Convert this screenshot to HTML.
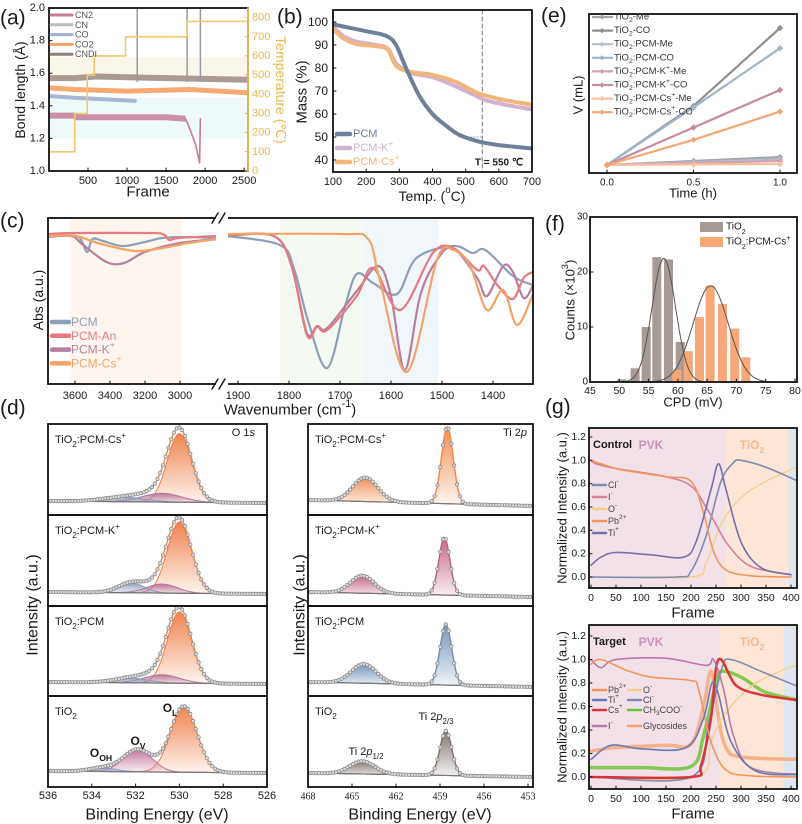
<!DOCTYPE html>
<html><head><meta charset="utf-8">
<style>
html,body{margin:0;padding:0;background:#fff}
svg{display:block;font-family:"Liberation Sans",Arial,sans-serif}
</style></head>
<body>
<svg id="fig" width="802" height="824" viewBox="0 0 802 824"></svg>
<script>
// ---------------- DATA ----------------
// (a) bond length MD
const aCN2=[[0,1.34],[330,1.34],[345,1.33],[1000,1.33],[1500,1.33],[1750,1.32]];
const aCN2Drop=[[1750,1.32],[1810,1.25],[1880,1.16],[1930,1.05],[1940,1.32]];
const aCO=[[0,1.46],[330,1.45],[700,1.44],[1100,1.43]];
const aCO2=[[0,1.51],[330,1.5],[1000,1.49],[1800,1.5],[2550,1.48]];
const aCNDI=[[0,1.57],[330,1.57],[600,1.58],[1500,1.57],[2550,1.56]];
const aSpikes=[1130,1770,1940];
const aTemp=[[0,100],[330,100],[330,300],[490,300],[490,500],[580,500],[580,600],[980,600],[980,700],[1770,700],[1770,780],[2550,780]];
const aYTicks=[1.0,1.2,1.4,1.6,1.8,2.0];
const aTTicks=[0,100,200,300,400,500,600,700,800];
const aXTicks=[500,1000,1500,2000,2500];
// (b) TGA
const bPCM=[[100,99],[150,97.5],[200,96],[260,94],[290,90],[320,80],[360,68],[400,60],[440,55],[480,51],[540,48],[600,46.5],[700,45]];
const bK=[[100,98],[130,94],[170,91.5],[230,90],[265,88.5],[290,82],[330,78],[400,76],[470,72],[530,68],[560,66],[620,64],[700,62]];
const bCs=[[100,97],[130,93],[170,90.5],[230,89.5],[265,88],[290,81],[330,78.5],[400,77],[470,74],[530,69.5],[560,68],[620,66],[700,64]];
const bXTicks=[100,200,300,400,500,600,700];
const bYTicks=[40,50,60,70,80,90,100];
// (e) gas volume
const eTimes=[0,0.5,1.0];
const eNames=['TiO2-Me','TiO2-CO','TiO2:PCM-Me','TiO2:PCM-CO','TiO2:PCM-K+-Me','TiO2:PCM-K+-CO','TiO2:PCM-Cs+-Me','TiO2:PCM-Cs+-CO'];
const eVals=[[0,0.28,0.55],[0,4.1,9.5],[0,0.2,0.4],[0,4.0,8.1],[0,0.14,0.28],[0,2.6,5.2],[0,0.04,0.07],[0,1.75,3.7]];
const eXTicks=[0.0,0.5,1.0];
// (c) FTIR  [wavenumber, absorbance (a.u., downward)]
const cPCM_L=[[3754,0],[3600,0],[3565,0.04],[3530,0.16],[3500,0.03],[3440,0.05],[3330,0.1],[3200,0.06],[3100,0.02],[2950,0.01],[2790,0.02]];
const cAn_L=[[3754,-0.02],[3600,-0.03],[3200,-0.03],[3100,-0.02],[3060,0.04],[3010,0.02],[2790,0]];
const cK_L=[[3754,0.01],[3620,0],[3560,0.08],[3420,0.26],[3320,0.27],[3200,0.16],[3000,0.07],[2790,0.03]];
const cCs_L=[[3754,0],[3600,0],[3450,0.08],[3260,0.15],[3100,0.12],[2950,0.07],[2790,0.03]];
const cPCM_R=[[1922,0],[1818,0.09],[1790,0.33],[1762,0.86],[1725,1.32],[1690,0.7],[1667,0.38],[1635,0.47],[1588,0.58],[1550,0.22],[1478,0.1],[1440,0.17],[1415,0.14],[1361,0.4],[1322,0.49]];
const cAn_R=[[1922,-0.01],[1830,0],[1795,0.3],[1765,0.99],[1745,0.91],[1725,0.94],[1667,0.6],[1635,0.32],[1582,0.74],[1518,0.17],[1478,0.12],[1431,0.34],[1418,0.3],[1390,0.5],[1361,0.63],[1340,0.42],[1322,0.36]];
const cK_R=[[1922,0],[1830,0],[1795,0.3],[1765,0.97],[1745,0.9],[1725,0.92],[1667,0.55],[1625,0.3],[1600,0.6],[1573,1.34],[1543,0.6],[1510,0.24],[1478,0.12],[1431,0.42],[1412,0.6],[1380,0.3],[1361,0.36],[1340,0.62],[1322,0.5]];
const cCs_R=[[1922,-0.02],[1700,-0.02],[1645,0.03],[1622,0.44],[1569,1.36],[1510,0.24],[1478,0.14],[1445,0.3],[1412,0.74],[1380,0.54],[1353,0.89],[1322,0.59]];
const cXTicksL=[3600,3400,3200,3000];
const cXTicksR=[1900,1800,1700,1600,1500,1400];
// (f) CPD histogram
const fBinsT=[50.4,52.7,54.6,56.4,58.4,60.4];
const fCountsT=[0.5,2.5,10,22.7,22.3,7.3];
const fBinsC=[59.8,61.8,63.7,65.5,67.6,69.7,71.6];
const fCountsC=[2.2,5.6,11.8,17.5,14.2,9.7,4.5];
const fFitT=[57.6,22.5,2.0];
const fFitC=[65.6,17.5,3.0];
const fXTicks=[45,50,55,60,65,70,75,80];
const fYTicks=[0,10,20,30];
// (d) XPS peaks [center eV, intensity, sigma]
const dO_Cs=[[530.0,0.94,0.55],[530.8,0.12,0.9],[532.5,0.06,1.0]];
const dO_K=[[530.0,0.95,0.55],[530.8,0.12,0.7],[532.2,0.13,0.6]];
const dO_PCM=[[530.0,0.95,0.55],[530.8,0.11,0.8],[532.2,0.06,0.8]];
const dO_T=[[529.8,0.88,0.6],[531.9,0.3,0.65],[533.5,0.05,0.6]];
const dTi_Cs=[[458.5,0.96,0.4],[464.1,0.3,0.85]];
const dTi_K=[[458.7,0.72,0.38],[464.3,0.22,0.8]];
const dTi_PCM=[[458.6,0.76,0.4],[464.2,0.24,0.85]];
const dTi_T=[[458.6,0.56,0.4],[464.3,0.16,0.85]];
const dOTicks=[536,534,532,530,528,526];
const dTiTicks=[468,465,462,459,456,453];
// (g) ToF-SIMS depth profiles
const gC_Cl=[[0,0],[170,0],[200,0.05],[230,0.35],[260,0.82],[285,0.98],[300,1.0],[350,0.94],[420,0.81]];
const gC_I=[[0,1.0],[10,0.97],[50,0.93],[150,0.86],[200,0.78],[230,0.6],[250,0.45],[275,0.27],[320,0.09],[400,0.02]];
const gC_O=[[0,0],[200,0],[230,0.12],[260,0.45],[300,0.68],[350,0.82],[420,0.96]];
const gC_Pb=[[0,1.0],[20,0.97],[60,0.92],[150,0.86],[200,0.82],[225,0.55],[245,0.22],[270,0.06],[320,0.01],[400,0]];
const gC_Ti=[[0,0.1],[20,0.17],[50,0.21],[120,0.19],[185,0.17],[210,0.3],[240,0.75],[255,0.97],[270,0.75],[300,0.3],[340,0.08],[400,0.02]];
const gT_Pb=[[0,0.96],[20,1.0],[70,0.91],[120,0.85],[200,0.82],[215,0.75],[240,0.3],[270,0.06],[320,0.01],[420,0]];
const gT_Ti=[[0,0.15],[40,0.27],[100,0.24],[190,0.25],[225,0.5],[242,0.8],[255,0.7],[280,0.3],[330,0.05],[420,0.02]];
const gT_Cs=[[0,0],[200,0],[220,0.1],[240,0.5],[255,1.0],[290,0.78],[340,0.7],[420,0.65]];
const gT_I=[[0,1.0],[20,0.93],[50,1.0],[150,1.01],[230,0.95],[245,1.0],[265,0.75],[285,0.35],[320,0.08],[420,0.02]];
const gT_O=[[0,0],[210,0],[240,0.3],[270,0.55],[330,0.8],[420,0.97]];
const gT_Cl=[[0,0],[200,0],[235,0.45],[262,0.93],[280,1.0],[340,0.9],[420,0.76]];
const gT_Ac=[[0,0.08],[100,0.08],[200,0.09],[225,0.35],[250,0.8],[262,0.9],[300,0.85],[350,0.72],[420,0.65]];
const gT_Gly=[[0,0.22],[50,0.25],[150,0.27],[200,0.28],[225,0.6],[240,0.9],[255,0.5],[270,0.25],[300,0.17],[420,0.15]];
const gXTicks=[0,50,100,150,200,250,300,350,400];
const gYTicks=[0,0.2,0.4,0.6,0.8,1.0,1.2];

// ---------------- HELPERS ----------------
const NS='http://www.w3.org/2000/svg';
const S=document.getElementById('fig');
function mk(tag,at,par){const e=document.createElementNS(NS,tag);for(const k in at)e.setAttribute(k,at[k]);(par||S).appendChild(e);return e;}
function L(d0,d1,r0,r1){const k=(r1-r0)/(d1-d0);return v=>r0+(v-d0)*k;}
const F=v=>(+v).toFixed(1);
function linPath(pts){return 'M'+pts.map(p=>F(p[0])+','+F(p[1])).join('L');}
function crPath(pts){
  if(pts.length<3)return linPath(pts);
  let d='M'+F(pts[0][0])+','+F(pts[0][1]);
  for(let i=0;i<pts.length-1;i++){
    const p0=pts[i-1]||pts[i],p1=pts[i],p2=pts[i+1],p3=pts[i+2]||p2;
    const c1=[p1[0]+(p2[0]-p0[0])/6,p1[1]+(p2[1]-p0[1])/6];
    const c2=[p2[0]-(p3[0]-p1[0])/6,p2[1]-(p3[1]-p1[1])/6];
    d+='C'+F(c1[0])+','+F(c1[1])+' '+F(c2[0])+','+F(c2[1])+' '+F(p2[0])+','+F(p2[1]);
  }
  return d;
}
function line(d,c,w,name,o){o=o||{};
  const e=mk('path',{d:d,fill:o.fill||'none',stroke:c,'stroke-width':w,'stroke-linejoin':'round','stroke-linecap':o.cap||'round'},o.par);
  if(o.op!=null)e.setAttribute('opacity',o.op);
  if(o.dash)e.setAttribute('stroke-dasharray',o.dash);
  
  
  return e;}
function rect(x,y,w,h,fill,name,o){o=o||{};
  const e=mk('rect',{x:F(x),y:F(y),width:F(Math.max(0,w)),height:F(Math.max(0,h)),fill:fill},o.par);
  if(o.stroke){e.setAttribute('stroke',o.stroke);e.setAttribute('stroke-width',o.sw||1.6);}
  if(o.op!=null)e.setAttribute('opacity',o.op);
  
  
  return e;}
function txt(x,y,s,name,o){o=o||{};
  const t=mk('text',{x:F(x),y:F(y),'font-size':o.fs||11,fill:o.c||'#1a1a1a','text-anchor':o.a||'middle','dominant-baseline':'central'},o.par);
  if(o.w)t.setAttribute('font-weight',o.w);
  if(o.ff)t.setAttribute('font-family',o.ff);
  if(o.r)t.setAttribute('transform','rotate('+o.r+' '+F(x)+' '+F(y)+')');
  t.innerHTML=s;
  
  
  return t;}
function dot(x,y,r,fill,stroke,name,par){
  const c=mk('circle',{cx:F(x),cy:F(y),r:r,fill:fill,stroke:stroke,'stroke-width':0.8},par);
  
  
  return c;}
let clipN=0;
function clipG(x,y,w,h,name){
  const id='cl'+(clipN++);
  const cp=mk('clipPath',{id:id});mk('rect',{x:x,y:y,width:w,height:h},cp);
  const g=mk('g',{'clip-path':'url(#'+id+')'});
  
  
  return g;}
function frame(x0,y0,x1,y1,name){return rect(x0,y0,x1-x0,y1-y0,'none',name,{stroke:'#111',sw:1.8});}
const sub=s=>'<tspan baseline-shift="sub" font-size="72%">'+s+'</tspan>';
const sup=s=>'<tspan baseline-shift="super" font-size="72%">'+s+'</tspan>';
function xTicks(vals,sx,yb,ly,name,o){o=o||{};
  vals.forEach(v=>{const x=sx(v);
    line('M'+F(x)+','+F(yb)+'V'+F(yb-3),'#111',1,name+'-tick');
    txt(x,ly,o.fmt?o.fmt(v):String(v),name+'-label',{fs:o.fs||11,ff:o.ff});});}
function yTicks(vals,sy,xl,lx,name,o){o=o||{};
  vals.forEach(v=>{const y=sy(v);
    line('M'+F(xl)+','+F(y)+'H'+F(xl+3),'#111',1,name+'-tick');
    txt(lx,y,o.fmt?o.fmt(v):String(v),name+'-label',{fs:o.fs||11,a:'end',c:o.c});});}
function panelLabel(x,y,s){txt(x,y,s,'panel-label-'+s.replace(/[()]/g,''),{fs:21,a:'start'});}

// ---------------- PANEL (a) ----------------
(function(){
  const sx=L(0,2550,49,248), sy=L(1,2,171,8), st=L(0,850,171,8);
  panelLabel(0,18,'(a)');
  const g=clipG(49,8,199,163,'panel-a-plot');
  rect(sx(0),sy(1.45),sx(2550)-sx(0),sy(1.2)-sy(1.45),'#eef9fa','stability-band',{par:g});
  rect(sx(0),sy(1.7),sx(2550)-sx(0),sy(1.58)-sy(1.7),'#faf6ea','transition-band',{par:g});
  const P=a=>a.map(p=>[sx(p[0]),sy(p[1])]);
  line(linPath(P(aCO)),'#9fb0cc',4,'series-co',{par:g,op:0.9});
  line(linPath(P(aCO2)),'#f5a163',5,'series-co2',{par:g,op:0.9});
  line(linPath(P(aCNDI)),'#9b8a82',6,'series-cndi',{par:g,op:0.85});
  line(linPath(P(aCN2)),'#c47d96',6,'series-cn2',{par:g,op:0.85,cap:'butt'});
  line(linPath(P(aCN2Drop)),'#c47d96',1.6,'series-cn2-drop',{par:g});
  aSpikes.forEach(f=>{line('M'+F(sx(f))+','+F(sy(1.55))+'V'+F(sy(2.0)),'#9a96a6',1.5,'spike-line',{par:g});});
  line(linPath(aTemp.map(p=>[sx(p[0]),st(p[1])])),'#f3c870',1.6,'temperature-line',{par:g});
  frame(49,8,248,171,'panel-a-frame');
  line('M248,8V171','#f0c060',1.8,'temperature-axis');
  yTicks(aYTicks,sy,49,45,'bond-length-tick',{fmt:v=>v.toFixed(1)});
  aTTicks.forEach(v=>{const y=st(v);line('M245,'+F(y)+'H248','#e8b84a',1,'temperature-tick');
    txt(252,y,String(v),'temperature-tick-label',{fs:11,a:'start',c:'#e8b84a'});});
  xTicks(aXTicks,sx,171,181,'frame-tick');
  txt(148,192,'Frame','x-axis-title-a',{fs:15});
  txt(20,90,'Bond length (Å)','y-axis-title-a',{fs:14,r:-90});
  txt(281,90,'Temperature (℃)','y2-axis-title-a',{fs:14,r:90,c:'#e8b84a'});
  const leg=[['CN2','#c47d96'],['CN','#bbbbbb'],['CO','#9fb0cc'],['CO2','#f5a163'],['CNDI','#8a7f7a']];
  leg.forEach((l,i)=>{const y=15+i*9.8;line('M51,'+y+'H72',l[1],3,'legend-line-'+l[0].toLowerCase());
    txt(75,y,l[0],'legend-label-'+l[0].toLowerCase(),{fs:9,a:'start',c:'#555'});});
})();

// ---------------- PANEL (b) ----------------
(function(){
  const sx=L(100,700,333,532), sy=L(40,100,160,22);
  panelLabel(277,17,'(b)');
  const g=clipG(333,10,199,162,'panel-b-plot');
  const P=a=>a.map(p=>[sx(p[0]),sy(p[1])]);
  line('M'+F(sx(550))+',10V172','#777',1,'t550-marker',{par:g,dash:'4,3'});
  line('M'+F(sx(480))+','+F(sy(50))+'H'+F(sx(550)),'#8fa3c0',1,'pcm-guide',{par:g,dash:'1,2'});
  line('M'+F(sx(550))+','+F(sy(65.5))+'H'+F(sx(610)),'#c9a9c8',1,'k-guide',{par:g,dash:'1,2'});
  line(crPath(P(bK)),'#d2b3cf',4,'series-pcm-k',{par:g});
  line(crPath(P(bCs)),'#f3b57c',4,'series-pcm-cs',{par:g});
  line(crPath(P(bPCM)),'#6e8099',4,'series-pcm',{par:g});
  frame(333,10,532,172,'panel-b-frame');
  yTicks(bYTicks,sy,333,328,'mass-tick',{fs:12});
  xTicks(bXTicks,sx,172,182,'temp-tick',{fs:11});
  txt(432,196,'Temp. (<tspan baseline-shift="super" font-size="70%">o</tspan>C)','x-axis-title-b',{fs:14});
  txt(302,92,'Mass (%)','y-axis-title-b',{fs:15,r:-90});
  txt(499,163,'T = 550 ℃','t550-label',{fs:10,w:'bold'});
  const leg=[['PCM','#6e8099','PCM'],['PCM-K'+sup('+'),'#d2b3cf','PCM-K'],['PCM-Cs'+sup('+'),'#f3b57c','PCM-Cs']];
  leg.forEach((l,i)=>{const y=134+i*14;line('M337,'+y+'H350',l[1],4.5,'legend-line-'+l[2].toLowerCase());
    txt(353,y,l[0],'legend-label-'+l[2].toLowerCase(),{fs:11,a:'start',c:l[1]});});
})();

// ---------------- PANEL (e) ----------------
(function(){
  const sx=L(0,1,607,780), sy=L(0,9.5,165,28);
  panelLabel(541,16,'(e)');
  const cols=['#a3a3a3','#8f8f8f','#b2bccf','#9fb4cc','#cfa3b2','#c88aa0','#f7c09a','#f4a673'];
  const order=[0,2,4,6,1,3,5,7];
  order.forEach(i=>{const pts=eTimes.map((t,j)=>[sx(t),sy(eVals[i][j])]);
    line(linPath(pts),cols[i],2.2,'series-'+eNames[i].toLowerCase().replace(/[^a-z0-9]+/g,'-'));
    pts.forEach(p=>{const m=mk('path',{d:'M'+F(p[0])+','+F(p[1]-3.2)+'l3.2,3.2l-3.2,3.2l-3.2,-3.2z',fill:cols[i]});
      
      });});
  frame(589,14,797,173,'panel-e-frame');
  xTicks(eXTicks,sx,173,183,'time-tick',{fmt:v=>v.toFixed(1),fs:10});
  txt(693,193,'Time (h)','x-axis-title-e',{fs:13});
  txt(578,95,'V (mL)','y-axis-title-e',{fs:13,r:-90});
  const labs=['TiO'+sub('2')+'-Me','TiO'+sub('2')+'-CO','TiO'+sub('2')+':PCM-Me','TiO'+sub('2')+':PCM-CO','TiO'+sub('2')+':PCM-K'+sup('+')+'-Me','TiO'+sub('2')+':PCM-K'+sup('+')+'-CO','TiO'+sub('2')+':PCM-Cs'+sup('+')+'-Me','TiO'+sub('2')+':PCM-Cs'+sup('+')+'-CO'];
  labs.forEach((l,i)=>{const y=17+i*13.6;
    line('M593,'+F(y)+'H612',cols[i],2.2,'legend-line');
    const m=mk('path',{d:'M602,'+F(y-2.6)+'l2.6,2.6l-2.6,2.6l-2.6,-2.6z',fill:cols[i]});
    
    
    txt(614,y,l,'legend-label',{fs:9.5,a:'start',c:'#333'});});
})();

// ---------------- PANEL (c) ----------------
(function(){
  const sxL=L(3600,3000,75,180), sxR=L(1900,1400,238,493), sy=v=>236+v*100;
  panelLabel(0,221,'(c)');
  const gl=clipG(48,218,169,166,'panel-c-left-plot');
  const gr=clipG(227,218,306,166,'panel-c-right-plot');
  rect(70,218,112,166,'#fef6ee','oh-region-shade',{par:gl});
  rect(280,218,83,166,'#f4faf1','carbonyl-region-shade',{par:gr});
  rect(363,218,75,166,'#f1f6fb','carboxylate-region-shade',{par:gr});
  const ser=[['pcm',cPCM_L,cPCM_R,'#8e9fb8'],['pcm-k',cK_L,cK_R,'#b57f9f'],['pcm-an',cAn_L,cAn_R,'#e77a80'],['pcm-cs',cCs_L,cCs_R,'#f2a468']];
  ser.forEach(s=>{
    line(crPath(s[1].map(p=>[sxL(p[0]),sy(p[1])])),s[3],2.2,'series-'+s[0]+'-left',{par:gl});
    line(crPath(s[2].map(p=>[sxR(p[0]),sy(p[1])])),s[3],2.2,'series-'+s[0]+'-right',{par:gr});});
  frame(48,218,533,384,'panel-c-frame');
  rect(216,214,12,174,'#fff','axis-break-gap');
  ['218','384'].forEach(y=>{line('M212,'+(+y+5)+'L218,'+(+y-5)+'M219,'+(+y+5)+'L225,'+(+y-5),'#111',1.4,'axis-break-mark');});
  xTicks(cXTicksL,sxL,384,396,'wavenumber-tick-left');
  xTicks(cXTicksR,sxR,384,396,'wavenumber-tick-right');
  txt(290,410,'Wavenumber (cm'+sup('-1')+')','x-axis-title-c',{fs:15});
  txt(38,300,'Abs (a.u.)','y-axis-title-c',{fs:14,r:-90});
  const leg=[['PCM','#8e9fb8','pcm'],['PCM-An','#e77a80','pcm-an'],['PCM-K'+sup('+'),'#b57f9f','pcm-k'],['PCM-Cs'+sup('+'),'#f2a468','pcm-cs']];
  leg.forEach((l,i)=>{const y=322+i*13.8;line('M52,'+F(y)+'H69',l[1],4.5,'legend-line-'+l[2]);
    txt(71,y,l[0],'legend-label-'+l[2],{fs:12,a:'start',c:l[1]});});
})();

// ---------------- PANEL (f) ----------------
(function(){
  const sx=L(45,80,590,795), sy=L(0,30,382,217);
  panelLabel(545,224,'(f)');
  fBinsT.forEach((b,i)=>{rect(sx(b)-4.5,sy(fCountsT[i]),9,sy(0)-sy(fCountsT[i]),'#a89a94','bar-tio2');});
  fBinsC.forEach((b,i)=>{rect(sx(b)-4.5,sy(fCountsC[i]),9,sy(0)-sy(fCountsC[i]),'#f7a878','bar-tio2-pcm-cs');});
  [fFitT,fFitC].forEach((p,k)=>{const pts=[];for(let v=45;v<=80;v+=0.25){pts.push([sx(v),sy(p[1]*Math.exp(-0.5*Math.pow((v-p[0])/p[2],2)))]);}
    line(linPath(pts),'#555',1,k?'fit-tio2-pcm-cs':'fit-tio2');});
  frame(590,217,797,382,'panel-f-frame');
  xTicks(fXTicks,sx,382,391,'cpd-tick',{fs:10.5});
  yTicks(fYTicks,sy,590,588,'counts-tick',{fs:10});
  txt(693,402,'CPD (mV)','x-axis-title-f',{fs:13});
  txt(570,300,'Counts (×10'+sup('3')+')','y-axis-title-f',{fs:13,r:-90});
  rect(700,222,23,10,'#a89a94','legend-swatch-tio2');
  txt(726,227,'TiO'+sub('2'),'legend-label-tio2',{fs:10,a:'start'});
  rect(700,237,23,10,'#f7a878','legend-swatch-tio2-pcm-cs');
  txt(726,242,'TiO'+sub('2')+':PCM-Cs'+sup('+'),'legend-label-tio2-pcm-cs',{fs:10,a:'start'});
})();

// ---------------- PANEL (d) ----------------
(function(){
  panelLabel(0,408,'(d)');
  const rows=[424,515,606,696,787];
  const gauss=(pk,e)=>pk[1]*Math.exp(-0.5*Math.pow((e-pk[0])/pk[2],2));
  function xps(x0,x1,d0,d1,peaks,rowI,main,comp,lab,name,slope,base,scale){
    const sx=L(d0,d1,x0,x1), top=rows[rowI], bot=rows[rowI+1];
    const g=clipG(x0,top,x1-x0,bot-top,name+'-plot');
    const bl=e=>bot-base-slope*(e-d1)/(d0-d1);
    const sy=(e,v)=>bl(e)-v*scale;
    const step=(d0-d1)/160;
    peaks.forEach((pk,k)=>{
      const pts=[];for(let e=d0;e>=d1-0.001;e-=step)pts.push([sx(e),sy(e,gauss(pk,e))]);
      const basePts=[];for(let e=d1;e<=d0+0.001;e+=step)basePts.push([sx(e),bl(e)]);
      const id='gr'+name+k;
      const gd=mk('linearGradient',{id:id,x1:0,y1:0,x2:0,y2:1});
      mk('stop',{offset:'0','stop-color':comp[k],'stop-opacity':'0.95'},gd);
      mk('stop',{offset:'1','stop-color':comp[k],'stop-opacity':'0.08'},gd);
      line(linPath(pts.concat(basePts))+'Z',comp[k],1,name+'-component-'+k,{par:g,fill:'url(#'+id+')'});});
    const env=[];for(let e=d0;e>=d1-0.001;e-=step){let v=0;peaks.forEach(pk=>v+=gauss(pk,e));env.push([sx(e),sy(e,v)]);}
    line(linPath([[sx(d0),bl(d0)],[sx(d1),bl(d1)]]),'#777',1.2,name+'-background',{par:g});
    line(linPath(env),main,1.4,name+'-envelope',{par:g});
    for(let i=0;i<env.length;i+=2)dot(env[i][0],env[i][1],1.7,'#ddd','#888',name+'-data-point',g);
    frame(x0,top,x1,bot,name+'-frame');
    txt(x0+7,top+16,lab,name+'-sample-label',{fs:11,a:'start'});
  }
  const oc=['#f07d45','#b8739a','#8c9cbf'];
  xps(48,267,536,526,dO_Cs,0,'#e88a55',oc,'TiO'+sub('2')+':PCM-Cs'+sup('+'),'o1s-cs',2,12,73);
  xps(48,267,536,526,dO_K,1,'#e88a55',oc,'TiO'+sub('2')+':PCM-K'+sup('+'),'o1s-k',2,12,75);
  xps(48,267,536,526,dO_PCM,2,'#e88a55',oc,'TiO'+sub('2')+':PCM','o1s-pcm',2,12,75);
  xps(48,267,536,526,dO_T,3,'#e88a55',[oc[0],'#c06f96','#8c9cbf'],'TiO'+sub('2'),'o1s-tio2',2,14,75);
  xps(308,533,468,452.66,dTi_Cs,0,'#f08a4b',['#f08a4b','#f08a4b'],'TiO'+sub('2')+':PCM-Cs'+sup('+'),'ti2p-cs',6,9,80);
  xps(308,533,468,452.66,dTi_K,1,'#c0607f',['#c0607f','#c0607f'],'TiO'+sub('2')+':PCM-K'+sup('+'),'ti2p-k',5,9,80);
  xps(308,533,468,452.66,dTi_PCM,2,'#6f8fb5',['#6f8fb5','#6f8fb5'],'TiO'+sub('2')+':PCM','ti2p-pcm',5,9,80);
  xps(308,533,468,452.66,dTi_T,3,'#7d706a',['#7d706a','#7d706a'],'TiO'+sub('2'),'ti2p-tio2',4,10,80);
  txt(255,433,'O 1<tspan font-style="italic">s</tspan>','o1s-title',{fs:11,a:'end'});
  txt(527,433,'Ti 2<tspan font-style="italic">p</tspan>','ti2p-title',{fs:11,a:'end'});
  txt(101,753,'O'+sub('OH'),'o-oh-label',{fs:12,w:'bold'});
  txt(138,741,'O'+sub('V'),'o-v-label',{fs:12,w:'bold'});
  txt(170,708,'O'+sub('L'),'o-l-label',{fs:12,w:'bold'});
  txt(366,752,'Ti 2<tspan font-style="italic">p</tspan>'+sub('1/2'),'ti2p12-label',{fs:11});
  txt(436,717,'Ti 2<tspan font-style="italic">p</tspan>'+sub('2/3'),'ti2p23-label',{fs:11});
  xTicks(dOTicks,L(536,526,48,267),787,796,'o1s-be-tick',{fs:11});
  xTicks(dTiTicks,L(468,452.66,308,533),787,797,'ti2p-be-tick',{fs:10,ff:'"Liberation Serif",serif'});
  txt(157,815,'Binding Energy (eV)','x-axis-title-d-left',{fs:16});
  txt(420,815,'Binding Energy (eV)','x-axis-title-d-right',{fs:16});
  txt(33,605,'Intensity (a.u.)','y-axis-title-d-left',{fs:16,r:-90});
  txt(300,605,'Intensity (a.u.)','y-axis-title-d-right',{fs:16,r:-90});
})();

// ---------------- PANEL (g) ----------------
(function(){
  const sx=L(0,400,591,791);
  panelLabel(545,407,'(g)');
  function gp(top,bot,sy,pvkEnd,tioEnd,title,series,name,legs){
    const g=clipG(589,top,208,bot-top,name+'-plot');
    rect(589,top,sx(pvkEnd)-589,bot-top,'#f3e1ea','pvk-region',{par:g});
    rect(sx(pvkEnd),top,sx(tioEnd)-sx(pvkEnd),bot-top,'#fde6d8','tio2-region',{par:g});
    rect(sx(tioEnd),top,800-sx(tioEnd),bot-top,'#dfe6ee','substrate-region',{par:g});
    series.forEach(s=>line(crPath(s[0].map(p=>[sx(p[0]),sy(p[1])])),s[1],s[2],name+'-series-'+s[3],{par:g,op:s[4]||1}));
    frame(589,top,797,bot,name+'-frame');
    yTicks(gYTicks,sy,589,586,name+'-intensity-tick',{fs:10.5,fmt:v=>v.toFixed(1)});
    xTicks(gXTicks,sx,bot,bot+10,name+'-frame-tick',{fs:10.5});
    txt(593,top+17,title,name+'-title',{fs:11,w:'bold',a:'start'});
    txt(651,top+17,'PVK',name+'-pvk-label',{fs:12,w:'bold',c:'#c792b5'});
    txt(752,top+17,'TiO'+sub('2'),name+'-tio2-label',{fs:12,w:'bold',c:'#f3b98d'});
    txt(693,bot+25,'Frame',name+'-x-axis-title',{fs:15});
    txt(562,(top+bot)/2,'Normalized Intensity (a.u.)',name+'-y-axis-title',{fs:13,r:-90});
    legs.forEach(l=>{line('M'+l[0]+','+F(l[1])+'H'+(l[0]+13),l[3],2.5,name+'-legend-line');
      txt(l[0]+15,l[1],l[2],name+'-legend-label',{fs:9,a:'start',c:'#444'});});
  }
  gp(428,588,L(0,1.2,577,437),270,395,'Control',
    [[gC_O,'#f6cf8a',1.4,'o'],[gC_Cl,'#7d8bb0',1.6,'cl'],[gC_I,'#d3819a',1.6,'i'],[gC_Pb,'#f2955e',1.6,'pb'],[gC_Ti,'#7471a8',1.6,'ti']],
    'control',[[593,485,'Cl'+sup('-'),'#7d8bb0'],[593,497,'I'+sup('-'),'#d3819a'],[593,509,'O'+sup('-'),'#f6cf8a'],[593,521,'Pb'+sup('2+'),'#f2955e'],[593,533,'Ti'+sup('+'),'#7471a8']]);
  gp(625,789,L(0,1.2,777,636),257,385,'Target',
    [[gT_Gly,'#f5a070',3.5,'glycosides',0.75],[gT_Ac,'#6ec23a',3.5,'ch3coo',0.85],[gT_O,'#f6cf8a',1.4,'o'],[gT_Cl,'#7d8bb0',1.6,'cl'],[gT_Cs,'#d8343a',2.5,'cs'],[gT_I,'#b77aa8',1.6,'i'],[gT_Pb,'#f2955e',1.6,'pb'],[gT_Ti,'#6a78b0',1.6,'ti']],
    'target',[[593,690,'Pb'+sup('2+'),'#f2955e'],[593,700,'Ti'+sup('+'),'#6a78b0'],[593,710,'Cs'+sup('+'),'#d8343a'],[593,726,'I'+sup('-'),'#b77aa8'],
      [628,690,'O'+sup('-'),'#f6cf8a'],[628,700,'Cl'+sup('-'),'#7d8bb0'],[628,710,'CH'+sub('3')+'COO'+sup('-'),'#6ec23a'],[628,726,'Glycosides','#f5a070']]);
})();
</script>
</body></html>
